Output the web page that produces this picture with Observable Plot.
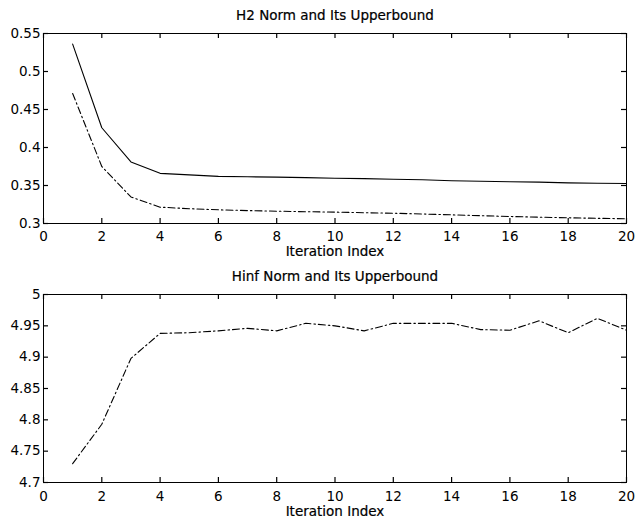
<!DOCTYPE html>
<html>
<head>
<meta charset="utf-8">
<script src="https://cdn.jsdelivr.net/npm/d3@7"></script>
<script src="https://cdn.jsdelivr.net/npm/@observablehq/plot@0.6"></script>
<style>
  html, body { margin: 0; padding: 0; background: #fff; }
  svg { display: block; }
</style>
</head>
<body>
<div id="chart"></div>
<script>
// ---- data ----
const iterations = [1,2,3,4,5,6,7,8,9,10,11,12,13,14,15,16,17,18,19,20];
const h2Norm = [0.536,0.426,0.381,0.366,0.364,0.362,0.3615,0.361,0.3603,0.3596,0.359,0.3583,0.3575,0.3562,0.3555,0.355,0.3545,0.3535,0.353,0.3526];
const h2Upper = [0.471,0.375,0.335,0.3215,0.3195,0.318,0.317,0.3162,0.3155,0.315,0.3142,0.3135,0.3125,0.3114,0.3103,0.3092,0.3083,0.3075,0.3068,0.3062];
const hinfNorm = [4.73,4.793,4.898,4.938,4.939,4.942,4.946,4.942,4.954,4.950,4.942,4.954,4.954,4.954,4.944,4.943,4.958,4.939,4.962,4.943];
const hinfUpper = [5,5,5,5,5,5,5,5,5,5,5,5,5,5,5,5,5,5,5,5];
const xTicks = [0,2,4,6,8,10,12,14,16,18,20];
const yTicksTop = [0.3,0.35,0.4,0.45,0.5,0.55];
const yTicksBottom = [4.7,4.75,4.8,4.85,4.9,4.95,5];
const titles = ["H2 Norm and Its Upperbound", "Hinf Norm and Its Upperbound"];
const xLabel = "Iteration Index";

const FONT = "DejaVu Sans";
const FS = 13.5;
const dashDot = "7,3,1.5,3";
const TICK = 5;
const W = 635, ML = 43, MR = 9;

function innerTicks(xs, ys, fh, fw) {
  const common = {stroke: "#000", strokeWidth: 1.2};
  return [
    Plot.tickX(xs, {...common, x: d => d, insetTop: fh - TICK}),
    Plot.tickX(xs, {...common, x: d => d, insetBottom: fh - TICK}),
    Plot.tickY(ys, {...common, y: d => d, insetRight: fw - TICK}),
    Plot.tickY(ys, {...common, y: d => d, insetLeft: fw - TICK})
  ];
}

function panel({title, solid, dashed, yDomain, yTicks, height, marginTop, marginBottom, padX, labelDy}) {
  const rowsSolid = iterations.map((x, i) => ({x, y: solid[i]}));
  const rowsDashed = iterations.map((x, i) => ({x, y: dashed[i]}));
  const txt = {fontSize: FS, fill: "#000", stroke: "#000", strokeWidth: 0.2};
  const fh = height - marginTop - marginBottom;
  const fw = W - ML - MR;
  return Plot.plot({
    width: W,
    height,
    marginLeft: ML,
    marginRight: MR,
    marginTop,
    marginBottom,
    style: {fontFamily: FONT, fontSize: FS + "px", color: "#000", background: "#fff"},
    x: {domain: [0, 20], ticks: xTicks},
    y: {domain: yDomain, ticks: yTicks},
    marks: [
      Plot.line(rowsSolid, {x: "x", y: "y", stroke: "#000", strokeWidth: 1.1}),
      Plot.line(rowsDashed, {x: "x", y: "y", stroke: "#000", strokeWidth: 1.1, strokeDasharray: dashDot}),
      ...innerTicks(xTicks, yTicks, fh, fw),
      Plot.frame({stroke: "#000", strokeWidth: 1}),
      Plot.axisX(xTicks, {anchor: "bottom", tickSize: 0, tickPadding: padX, label: null, ...txt}),
      Plot.axisY(yTicks, {anchor: "left", tickSize: 0, tickPadding: 3, label: null, tickFormat: d3.format("~g"), ...txt}),
      Plot.text([title], {frameAnchor: "top", lineAnchor: "middle", dy: -18, text: d => d, ...txt}),
      Plot.text([xLabel], {frameAnchor: "bottom", lineAnchor: "middle", dy: labelDy, text: d => d, ...txt})
    ]
  });
}

const topPanel = panel({
  title: titles[0], solid: h2Norm, dashed: h2Upper,
  yDomain: [0.3, 0.55], yTicks: yTicksTop,
  height: 261, marginTop: 33, marginBottom: 38, padX: 8, labelDy: 28
});
const bottomPanel = panel({
  title: titles[1], solid: hinfUpper, dashed: hinfNorm,
  yDomain: [4.7, 5], yTicks: yTicksBottom,
  height: 261, marginTop: 33, marginBottom: 40, padX: 9, labelDy: 29
});
const el = document.getElementById("chart");
el.appendChild(topPanel);
el.appendChild(bottomPanel);
</script>
</body>
</html>
